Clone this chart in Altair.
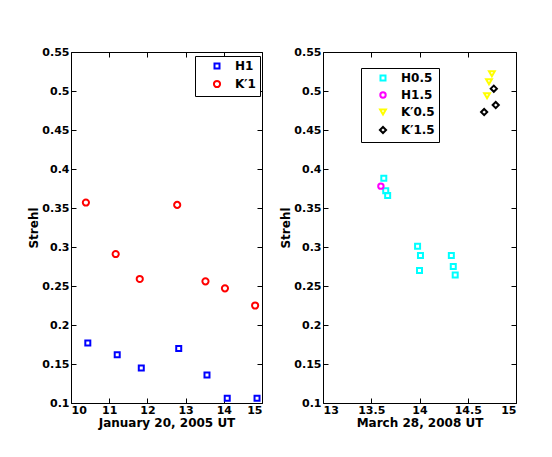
import altair as alt
import pandas as pd

# ---- data ----
left_series = ["H1", "K\u20321"]
h1_x = [10.44, 11.21, 11.84, 12.82, 13.56, 14.09, 14.87]
h1_y = [0.177, 0.162, 0.145, 0.170, 0.136, 0.106, 0.106]
k1_x = [10.39, 11.17, 11.80, 12.78, 13.52, 14.03, 14.82]
k1_y = [0.357, 0.291, 0.259, 0.354, 0.256, 0.247, 0.225]

right_series = ["H0.5", "H1.5", "K\u20320.5", "K\u20321.5"]
h05_x = [13.63, 13.65, 13.67, 13.98, 14.01, 14.00, 14.33, 14.35, 14.37]
h05_y = [0.388, 0.372, 0.366, 0.301, 0.289, 0.270, 0.289, 0.275, 0.264]
h15_x = [13.60]
h15_y = [0.378]
k05_x = [14.75, 14.72, 14.70]
k05_y = [0.522, 0.512, 0.494]
k15_x = [14.77, 14.79, 14.67]
k15_y = [0.503, 0.482, 0.473]

y_ticks = [0.1, 0.15, 0.2, 0.25, 0.3, 0.35, 0.4, 0.45, 0.5, 0.55]
left_x_ticks = [10, 11, 12, 13, 14, 15]
right_x_ticks = [13, 13.5, 14, 14.5, 15]

left_colors = ["#0000ff", "#ff0000"]
left_shapes = ["square", "circle"]
left_sizes = [25, 38]
right_colors = ["#00ffff", "#ff00ff", "#ffff00", "#000000"]
right_shapes = ["square", "circle", "triangle-down", "diamond"]
right_sizes = [25, 38, 50, 38]


def frame(xs, ys, names):
    rows = []
    for xv, yv, n in zip(xs, ys, names):
        for a, b in zip(xv, yv):
            rows.append({"x": a, "y": b, "series": n})
    return pd.DataFrame(rows)


left_df = frame([h1_x, k1_x], [h1_y, k1_y], left_series)
right_df = frame([h05_x, h15_x, k05_x, k15_x], [h05_y, h15_y, k05_y, k15_y], right_series)

FONT = "DejaVu Sans"
TICK = 5


def panel(df, xdom, xticks, xtitle, series, colors, shapes, sizes, lx, ly, w, h):
    xs = alt.Scale(domain=xdom, nice=False, zero=False)
    ys = alt.Scale(domain=[0.1, 0.55], nice=False, zero=False)
    leg = alt.Legend(
        title=None, orient="none", legendX=lx, legendY=ly,
        strokeColor="black", fillColor="white", padding=4,
        symbolOffset=12, labelOffset=12, rowPadding=3,
        symbolStrokeWidth=2,
        labelFont=FONT, labelFontSize=12, labelFontWeight="bold",
        labelColor="black",
    )
    pts = alt.Chart(df).mark_point(filled=False, strokeWidth=2, opacity=1).encode(
        x=alt.X("x:Q", scale=xs, axis=alt.Axis(
            values=xticks, format="~g", title=xtitle, tickSize=TICK, offset=-TICK,
            domain=False, grid=False, labelPadding=1, titlePadding=2)),
        y=alt.Y("y:Q", scale=ys, axis=alt.Axis(
            values=y_ticks, format="~g", title="Strehl", tickSize=TICK, offset=-TICK,
            domain=False, grid=False, labelPadding=2, titlePadding=1)),
        color=alt.Color("series:N", scale=alt.Scale(domain=series, range=colors), legend=leg),
        shape=alt.Shape("series:N", scale=alt.Scale(domain=series, range=shapes), legend=leg),
        size=alt.Size("series:N", scale=alt.Scale(domain=series, range=sizes), legend=leg),
    )
    box = alt.Chart(df).mark_point(opacity=0).encode(
        x=alt.X("x:Q", scale=xs, axis=alt.Axis(
            orient="top", values=xticks, labels=False, title=None, tickSize=TICK,
            offset=-TICK, domain=False, grid=False)),
        y=alt.Y("y:Q", scale=ys, axis=alt.Axis(
            orient="right", values=y_ticks, labels=False, title=None, tickSize=TICK,
            offset=-TICK, domain=False, grid=False)),
    )
    return alt.layer(pts, box).resolve_axis(x="independent", y="independent").properties(
        width=w, height=h)


left = panel(left_df, [10, 15], left_x_ticks, "January 20, 2005 UT",
             left_series, left_colors, left_shapes, left_sizes, 124, 4, 191, 351)
right = panel(right_df, [13, 15], right_x_ticks, "March 28, 2008 UT",
              right_series, right_colors, right_shapes, right_sizes, 38, 16, 193, 351)

chart = alt.hconcat(left, right, spacing=14).resolve_scale(
    color="independent", shape="independent", size="independent"
).resolve_legend(
    color="independent", shape="independent", size="independent"
).properties(
    padding={"left": 19, "top": 37, "right": 5, "bottom": 5},
    background="white",
).configure_view(
    stroke="black", strokeWidth=1
).configure_axis(
    labelFont=FONT, labelFontSize=11, labelFontWeight="bold", labelColor="black",
    titleFont=FONT, titleFontSize=12, titleFontWeight="bold", titleColor="black",
    tickColor="black", tickWidth=1,
)

chart.save("out.html", embed_options={"renderer": "svg", "actions": False})
